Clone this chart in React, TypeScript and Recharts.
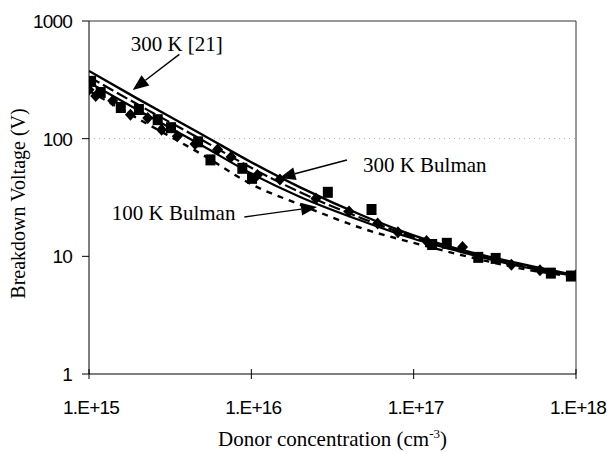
import React from 'react';
import {
  ComposedChart,
  Line,
  Scatter,
  XAxis,
  YAxis,
  ReferenceLine,
  ReferenceDot,
} from 'recharts';

// ejes (log-log)
const xTicks = [1e15, 1e16, 1e17, 1e18];
const xTickLabels = ['1.E+15', '1.E+16', '1.E+17', '1.E+18'];
const yTicks = [1, 10, 100, 1000];

// curvas
const concentrations = [1e15, 2e15, 5e15, 1e16, 2e16, 5e16, 1e17, 2e17, 5e17, 1e18];
const ref300K = [376, 218, 108, 63, 38.5, 21.8, 15.1, 11.3, 8.4, 6.9];
const dashed300K = [335, 195, 97, 56.5, 35, 20.6, 14.6, 11.0, 8.2, 6.85];
const bulman300K = [300, 175, 87, 50.5, 32, 19.6, 14.1, 10.8, 8.0, 6.8];
const bulman100K = [255, 148, 73, 41, 27.5, 17, 13, 10.2, 7.7, 6.7];

// puntos medidos
const squaresN = [1.03e15, 1.18e15, 1.57e15, 2.03e15, 2.65e15, 3.2e15, 4.7e15, 5.6e15, 8.8e15, 1.01e16, 2.96e16, 5.5e16, 1.3e17, 1.6e17, 2.5e17, 3.2e17, 7e17, 9.3e17];
const squaresV = [307, 247, 184, 177, 145, 124, 94, 66, 56, 46, 35, 25, 12.6, 12.9, 9.8, 9.6, 7.2, 6.8];
const diamondsN = [1.0e15, 1.1e15, 1.4e15, 1.8e15, 2.3e15, 2.8e15, 3.5e15, 4.5e15, 6.2e15, 7.5e15, 1.09e16, 1.5e16, 2.5e16, 4e16, 6e16, 8e16, 1.2e17, 2e17, 4e17, 6e17, 1e18];
const diamondsV = [260, 230, 210, 160, 150, 119, 105, 90, 81, 70, 49, 45, 31, 24, 19, 16, 13.5, 12, 8.5, 7.6, 6.9];

// anotaciones: texto, centro del texto, inicio y punta de la flecha
const annotations = [
  { text: '300 K [21]', at: [3.47e15, 640], from: [3.6e15, 520], to: [1.86e15, 259] },
  { text: '300 K Bulman', at: [1.17e17, 59.8], from: [3.88e16, 65.9], to: [1.49e16, 46.4] },
  { text: '100 K Bulman', at: [3.32e15, 23.4], from: [9.06e15, 21.6], to: [2.54e16, 26.3] },
];

const toPoints = (xs: number[], ys: number[]) => xs.map((n, i) => ({ n, v: ys[i] }));

const SERIF = '"Liberation Serif", "Times New Roman", serif';
const SANS = '"Liberation Sans", Arial, sans-serif';

const XTick = (props: any) => {
  const { x, y, payload } = props;
  const idx = xTicks.indexOf(payload.value);
  return (
    <g>
      <line x1={x} x2={x} y1={y - 5} y2={y + 5} stroke="#000" strokeWidth={1} />
      <text x={x + 2} y={y + 40} textAnchor="middle" fontFamily={SANS} fontSize={19} letterSpacing={-0.8} fill="#000">
        {xTickLabels[idx] ?? ''}
      </text>
    </g>
  );
};

const YTick = (props: any) => {
  const { x, y, payload } = props;
  return (
    <g>
      <line x1={x - 7} x2={x} y1={y} y2={y} stroke="#000" strokeWidth={1} />
      <text x={x - 17} y={y} dy={7} textAnchor="end" fontFamily={SANS} fontSize={19} letterSpacing={-0.8} fill="#000">
        {payload.value}
      </text>
    </g>
  );
};

const Arrow = (props: any) => {
  const { x1, y1, x2, y2 } = props;
  const ang = Math.atan2(y2 - y1, x2 - x1);
  const len = 16;
  const half = 6.5;
  const bx = x2 - len * Math.cos(ang);
  const by = y2 - len * Math.sin(ang);
  const px = -Math.sin(ang) * half;
  const py = Math.cos(ang) * half;
  return (
    <g>
      <line x1={x1} y1={y1} x2={bx} y2={by} stroke="#000" strokeWidth={1.4} />
      <polygon points={`${x2},${y2} ${bx + px},${by + py} ${bx - px},${by - py}`} fill="#000" />
    </g>
  );
};

const SquareMark = (props: any) => {
  const { cx, cy } = props;
  if (cx == null || cy == null) return <g />;
  return <rect x={cx - 5} y={cy - 5.5} width={10} height={11} fill="#000" />;
};

const DiamondMark = (props: any) => {
  const { cx, cy } = props;
  if (cx == null || cy == null) return <g />;
  return <polygon points={`${cx},${cy - 6} ${cx + 5.5},${cy} ${cx},${cy + 6} ${cx - 5.5},${cy}`} fill="#000" />;
};

export default function App() {
  return (
    <div style={{ position: 'absolute', left: 0, top: 0, width: 607, height: 452, background: '#fff' }}>
      <ComposedChart width={607} height={452} margin={{ top: 21, right: 31, bottom: 0, left: 0 }}>
        <XAxis
          dataKey="n"
          type="number"
          scale="log"
          domain={[1e15, 1e18]}
          ticks={xTicks}
          interval={0}
          allowDataOverflow
          height={78}
          tickSize={0}
          tickMargin={0}
          tick={<XTick />}
          axisLine={{ stroke: '#000', strokeWidth: 1 }}
          label={{
            content: (p: any) => {
              const vb = p.viewBox;
              return (
                <text x={vb.x + vb.width / 2} y={446} textAnchor="middle" fontFamily={SERIF} fontSize={21} fill="#000">
                  Donor concentration (cm
                  <tspan dy={-8} fontSize={13}>-3</tspan>
                  <tspan dy={8}>)</tspan>
                </text>
              );
            },
          }}
        />
        <YAxis
          dataKey="v"
          type="number"
          scale="log"
          domain={[1, 1000]}
          ticks={yTicks}
          interval={0}
          allowDataOverflow
          width={89}
          tickSize={0}
          tickMargin={0}
          tick={<YTick />}
          axisLine={{ stroke: '#000', strokeWidth: 1 }}
          label={{
            content: (p: any) => {
              const vb = p.viewBox;
              const cy = vb.y + vb.height / 2 + 6;
              return (
                <text x={18} y={cy} transform={`rotate(-90, 18, ${cy})`} textAnchor="middle" dominantBaseline="central" fontFamily={SERIF} fontSize={20} fill="#000">
                  Breakdown Voltage (V)
                </text>
              );
            },
          }}
        />

        {/* rejilla punteada en 100 y marco */}
        <ReferenceLine y={100} stroke="#aaa" strokeDasharray="1 4" />
        <ReferenceLine y={1000} stroke="#333" strokeWidth={1} />
        <ReferenceLine x={1e18} stroke="#333" strokeWidth={1} />

        <Line data={toPoints(concentrations, bulman100K)} dataKey="v" type="monotone" stroke="#000" strokeWidth={2.4} strokeDasharray="6 6" dot={false} isAnimationActive={false} />
        <Line data={toPoints(concentrations, bulman300K)} dataKey="v" type="monotone" stroke="#000" strokeWidth={2.2} dot={false} isAnimationActive={false} />
        <Line data={toPoints(concentrations, dashed300K)} dataKey="v" type="monotone" stroke="#000" strokeWidth={2.2} strokeDasharray="12 4" dot={false} isAnimationActive={false} />
        <Line data={toPoints(concentrations, ref300K)} dataKey="v" type="monotone" stroke="#000" strokeWidth={2.4} dot={false} isAnimationActive={false} />

        <Scatter data={toPoints(squaresN, squaresV)} shape={<SquareMark />} isAnimationActive={false} />
        <Scatter data={toPoints(diamondsN, diamondsV)} shape={<DiamondMark />} isAnimationActive={false} />

        {annotations.map((a) => (
          <ReferenceLine
            key={`arrow-${a.text}`}
            segment={[
              { x: a.from[0], y: a.from[1] },
              { x: a.to[0], y: a.to[1] },
            ]}
            shape={(p: any) => <Arrow {...p} />}
          />
        ))}
        {annotations.map((a) => (
          <ReferenceDot
            key={`text-${a.text}`}
            x={a.at[0]}
            y={a.at[1]}
            r={0}
            shape={(p: any) => (
              <text x={p.cx} y={p.cy} dy={7} textAnchor="middle" fontFamily={SERIF} fontSize={21} fill="#000">
                {a.text}
              </text>
            )}
          />
        ))}
      </ComposedChart>
    </div>
  );
}
